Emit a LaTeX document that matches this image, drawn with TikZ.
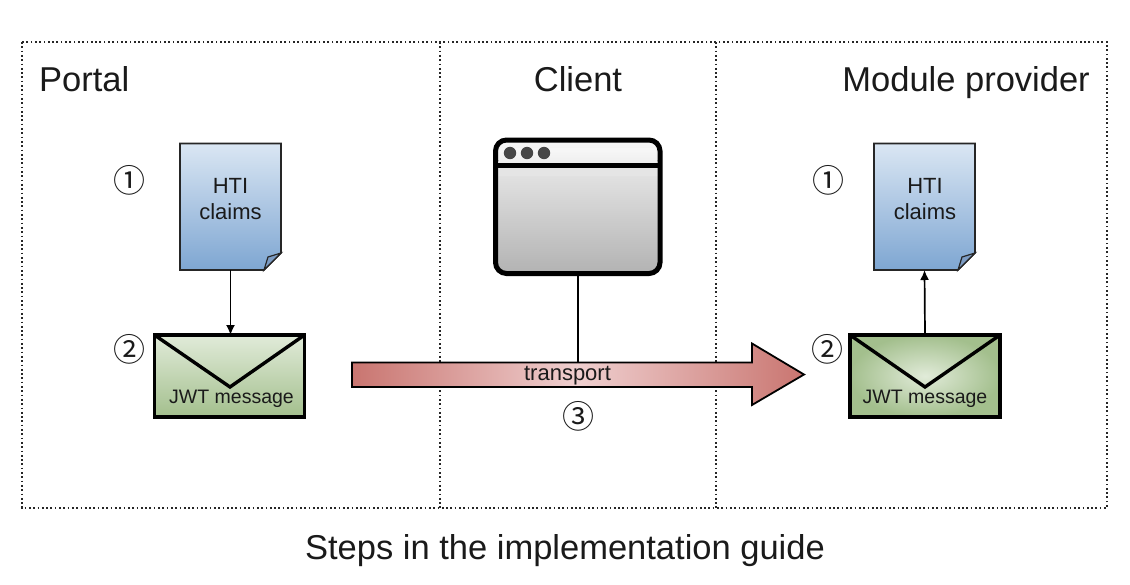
\documentclass[tikz,border=0pt]{standalone}
\usepackage{fontspec}
\setmainfont{Liberation Sans}
\newfontfamily\symfont{Noto Sans CJK SC}
\usetikzlibrary{arrows.meta,calc}
\definecolor{txt}{HTML}{1A1A1A}
\definecolor{blueA}{HTML}{DAE6F3}
\definecolor{blueB}{HTML}{7EA6D2}
\definecolor{foldblue}{HTML}{7C9CC4}
\definecolor{greenA}{HTML}{E1EBD9}
\definecolor{greenB}{HTML}{A3BF8D}
\definecolor{redA}{HTML}{C97570}
\definecolor{redB}{HTML}{EFCFCF}
\tikzset{
  x=1pt,y=-1pt,
  anchorbox/.style={rectangle,inner sep=0pt,outer sep=0pt,minimum width=#1},
  frameline/.style={line width=1.6pt,dash pattern=on 1.7pt off 2.6pt,black!85},
  heading/.style={font=\fontsize{34.5}{38}\selectfont,text=txt,inner sep=0pt},
  circnum/.style={font=\symfont\fontsize{32}{35}\selectfont,text=txt,inner sep=0pt},
  doclabel/.style={font=\fontsize{22}{26}\selectfont,text=txt,align=center,inner sep=0pt},
  envlabel/.style={font=\fontsize{19.5}{23}\selectfont,text=txt,inner sep=0pt},
  docbody/.style={draw=black!85,line width=1.6pt,top color=blueA,bottom color=blueB,line join=miter},
  docfold/.style={draw=black!85,line width=1.2pt,fill=foldblue},
  envbody/.style={draw=black,line width=3.4pt,line join=miter},
  conn/.style={black,line width=1.7pt},
  connarrow/.style={conn,-{Latex[length=10pt,width=9pt]}},
}
\newcommand{\docshape}[3]{% name, left x, center x
  \node[anchorbox=101pt,minimum height=127pt] (#1) at (#3,206.5) {};
  \path[docbody] (#2,143.5) -- (#2+101,143.5) -- (#2+101,253) -- (#2+84,270) -- (#2,270) -- cycle;
  \path[docfold] (#2+84,270) -- (#2+88,257) -- (#2+101,253) -- cycle;
}
\begin{document}
\begin{tikzpicture}
\useasboundingbox (0,0) rectangle (1130,584);
% frame
\draw[frameline] (22,42) rectangle (1107,508);
\draw[frameline] (440,42) -- (440,508);
\draw[frameline] (716,42) -- (716,508);
% headings
\node[heading,anchor=base west] (portal) at (39,91) {Portal};
\node[heading,anchor=base] (client) at (578,91) {Client};
\node[heading,anchor=base east] (provider) at (1090,91) {Module provider};
\node[heading,anchor=base] (caption) at (565,559) {Steps in the implementation guide};
% documents
\docshape{docL}{180}{230.5}
\docshape{docR}{874}{924.5}
\node[doclabel] (docLt) at (230.5,199.5) {HTI\\claims};
\node[doclabel] (docRt) at (925,199.5) {HTI\\claims};
% envelopes
\node[anchorbox=150pt,minimum height=82pt] (envL) at (229.5,376) {};
\path[envbody,top color=greenA,bottom color=greenB] (154.5,335) rectangle (304.5,417);
\draw[envbody,line join=miter] (154.5,335) -- (230,387) -- (304.5,335);
\node[anchorbox=150pt,minimum height=82pt] (envR) at (925,376) {};
\path[envbody,inner color=greenA,outer color=greenB] (850,335) rectangle (1000,417);
\draw[envbody,line join=miter] (850,335) -- (925,387) -- (1000,335);
\node[envlabel] (envLt) at (231.5,398.5) {JWT message};
\node[envlabel] (envRt) at (925,398.5) {JWT message};
% window
\node[anchorbox=167pt,minimum height=136pt] (win) at (578,206) {};
\fill[top color=white!97!black,bottom color=white!93!black,rounded corners=11pt] (496,140) -- (660,140) -- (660,165) -- (496,165) -- cycle;
\fill[top color=white!97!black,bottom color=white!93!black] (500,148) rectangle (656,165);
\fill[top color=white!90!black,bottom color=white!70!black,rounded corners=11pt] (496,166) -- (660,166) -- (660,273.5) -- (496,273.5) -- cycle;
\fill[white!90!black] (497,166) rectangle (659,176);
\draw[black,line width=5pt,rounded corners=11pt] (495.5,140) rectangle (660,273.5);
\draw[black,line width=4.5pt] (496,165.5) -- (660,165.5);
\fill[black!72] (510,153) circle (6.2) (527,153) circle (6.2) (544,153) circle (6.2);
% transport arrow
\node[anchorbox=400pt,minimum height=25pt] (arr) at (552,374.5) {};
\draw[conn] (win.south) -- (win.south |- arr.north);
\path[draw=black,line width=1.8pt,line join=miter,left color=redA,right color=redA,middle color=redB]
  (352,362.5) -- (752,362.5) -- (752,343.5) -- (804,374.5) -- (752,405) -- (752,387) -- (352,387) -- cycle;
\node[font=\fontsize{22}{25}\selectfont,text=txt,inner sep=0pt] (trlabel) at (567.5,376) {transport};
% connectors
\coordinate (envLtop) at (docL.south |- envL.north);
\draw[connarrow] (docL.south) -- (envLtop);
\draw[connarrow] (envR.north) -- (docR.south);
% numbers
\node[circnum] (n1L) at (129,180) {①};
\node[circnum] (n2L) at (129,349.5) {②};
\node[circnum] (n1R) at (828,180) {①};
\node[circnum] (n2R) at (827,349.5) {②};
\node[circnum] (n3) at (578,416.5) {③};
\end{tikzpicture}
\end{document}
